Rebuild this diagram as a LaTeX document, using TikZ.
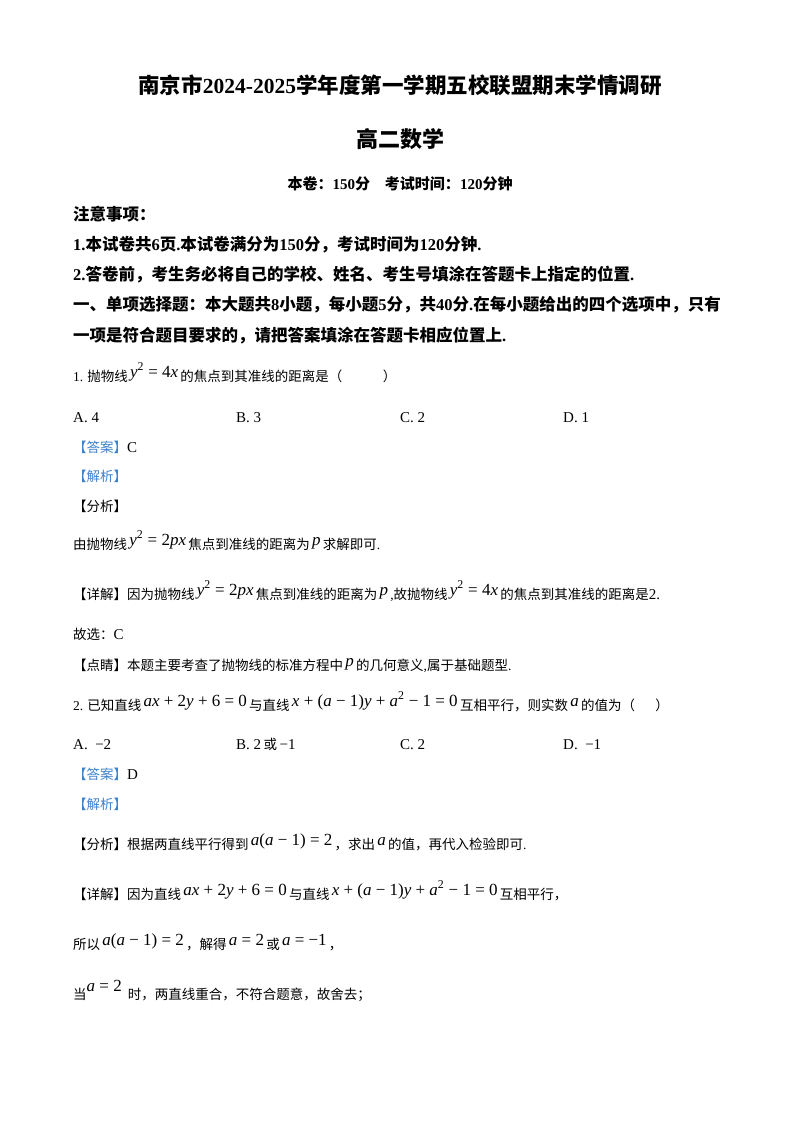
\documentclass[tikz,border=0pt]{standalone}
\usepackage{fontspec}
\setmainfont{Noto Sans CJK SC}
\newfontfamily\tms{Liberation Serif}
\newcommand\mt[1]{\,\raisebox{4pt}{\tms\fontsize{17}{17}\selectfont #1}\,}
\newcommand\iv[1]{{\itshape #1}}
\newcommand\sq{\textsuperscript{2}}
\newcommand\bl[1]{{\color{ansblue}#1}}
\definecolor{ansblue}{RGB}{60,130,205}
\begin{document}
\begin{tikzpicture}[x=1pt,y=-1pt,
  tx/.style={anchor=base west,inner sep=0pt,font=\fontsize{13.5}{13.5}\selectfont},
  hd/.style={anchor=base west,inner sep=0pt,font=\fontsize{16.5}{16.5}\selectfont\bfseries},
  opt/.style={anchor=base west,inner sep=0pt,font=\tms\fontsize{15}{15}\selectfont}]
\useasboundingbox[fill=white] (0,0) rectangle (800,1132);
\node[anchor=base,inner sep=0pt,font=\fontsize{21.5}{21.5}\selectfont\bfseries] (t1) at (400,93) {南京市{\tms 2024-2025}学年度第一学期五校联盟期末学情调研};
\node[anchor=base,inner sep=0pt,font=\fontsize{22}{22}\selectfont\bfseries] (t2) at (400,147) {高二数学};
\node[anchor=base,inner sep=0pt,font=\fontsize{15}{15}\selectfont\bfseries] (t3) at (400,189) {本卷：{\tms 150}分\quad 考试时间：{\tms 120}分钟};
\node[hd] (n0) at (73,220) {注意事项：};
\node[hd] (n1) at (73,250) {{\tms 1.}本试卷共{\tms 6}页{\tms .}本试卷满分为{\tms 150}分，考试时间为{\tms 120}分钟{\tms .}};
\node[hd] (n2) at (73,280) {{\tms 2.}答卷前，考生务必将自己的学校、姓名、考生号填涂在答题卡上指定的位置{\tms .}};
\node[hd] (n3) at (73,310) {一、单项选择题：本大题共{\tms 8}小题，每小题{\tms 5}分，共{\tms 40}分{\tms .}在每小题给出的四个选项中，只有};
\node[hd] (n4) at (73,341) {一项是符合题目要求的，请把答案填涂在答题卡相应位置上{\tms .}};
\node[tx] (q1) at (73,381) {{\tms 1.} 抛物线\mt{\iv{y}\sq\ = 4\iv{x}}的焦点到其准线的距离是（\hspace{3em}）};
\node[opt] (a1) at (73,422) {A.\ 4};
\node[opt] (b1) at (236,422) {B.\ 3};
\node[opt] (c1) at (400,422) {C.\ 2};
\node[opt] (d1) at (563,422) {D.\ 1};
\node[tx] (an1) at (73,452) {\bl{【答案】}{\tms\fontsize{15}{15}\selectfont C}};
\node[tx] (js1) at (73,481) {\bl{【解析】}};
\node[tx] (fx1) at (73,511) {【分析】};
\node[tx] (fx1b) at (73,549) {由抛物线\mt{\iv{y}\sq\ = 2\iv{px}}焦点到准线的距离为\mt{\iv{p}}求解即可{\tms .}};
\node[tx] (xj1) at (73,599) {【详解】因为抛物线\mt{\iv{y}\sq\ = 2\iv{px}}焦点到准线的距离为\mt{\iv{p}}{\tms ,}故抛物线\mt{\iv{y}\sq\ = 4\iv{x}}的焦点到其准线的距离是{\tms\fontsize{15}{15}\selectfont 2.}};
\node[tx] (gx1) at (73,639) {故选：{\tms\fontsize{15}{15}\selectfont C}};
\node[tx] (dj1) at (73,670) {【点睛】本题主要考查了抛物线的标准方程中\mt{\iv{p}}的几何意义{\tms ,}属于基础题型{\tms .}};
\node[tx] (q2) at (73,710) {{\tms 2.} 已知直线\mt{\iv{ax} + 2\iv{y} + 6 = 0}与直线\mt{\iv{x} + (\iv{a} − 1)\iv{y} + \iv{a}\sq\ − 1 = 0}互相平行，则实数\mt{\iv{a}}的值为（\hspace{1.5em}）};
\node[opt] (a2) at (73,749) {A.\ \ −2};
\node[opt] (b2) at (236,749) {B.\ 2\,{\fontspec{Noto Sans CJK SC}\fontsize{13.5}{13.5}\selectfont 或}\,−1};
\node[opt] (c2) at (400,749) {C.\ 2};
\node[opt] (d2) at (563,749) {D.\ \ −1};
\node[tx] (an2) at (73,779) {\bl{【答案】}{\tms\fontsize{15}{15}\selectfont D}};
\node[tx] (js2) at (73,809) {\bl{【解析】}};
\node[tx] (fx2) at (73,849) {【分析】根据两直线平行得到\mt{\iv{a}(\iv{a} − 1) = 2}，求出\mt{\iv{a}}的值，再代入检验即可{\tms .}};
\node[tx] (xj2) at (73,899) {【详解】因为直线\mt{\iv{ax} + 2\iv{y} + 6 = 0}与直线\mt{\iv{x} + (\iv{a} − 1)\iv{y} + \iv{a}\sq\ − 1 = 0}互相平行，};
\node[tx] (sy2) at (73,949) {所以\mt{\iv{a}(\iv{a} − 1) = 2}，解得\mt{\iv{a} = 2}或\mt{\iv{a} = −1}，};
\node[tx] (dg2) at (73,999) {当\raisebox{8pt}{\tms\fontsize{17}{17}\selectfont\iv{a} = 2}\ \ 时，两直线重合，不符合题意，故舍去；};
\end{tikzpicture}
\end{document}
